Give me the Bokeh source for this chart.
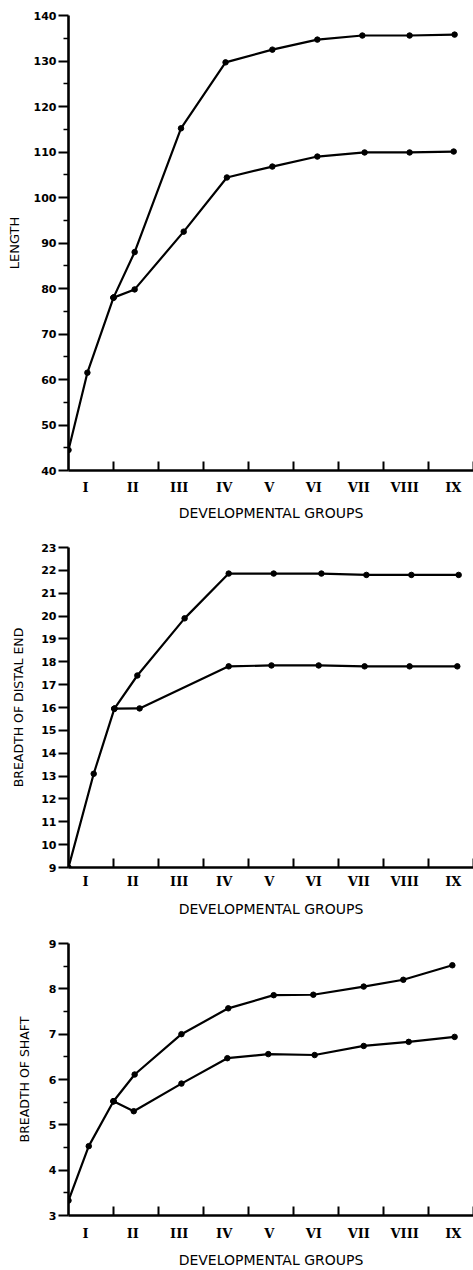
from bokeh.plotting import figure
from bokeh.layouts import column
from bokeh.models import FixedTicker, Range1d
from bokeh.embed import file_html
from bokeh.resources import INLINE

# ---- categories / tick labels ----
groups = ["I", "II", "III", "IV", "V", "VI", "VII", "VIII", "IX"]
group_label_x = [0.38, 1.43, 2.46, 3.46, 4.46, 5.45, 6.45, 7.47, 8.55]
group_bounds = [1, 2, 3, 4, 5, 6, 7, 8, 9]

# ---- Panel 1: LENGTH ----
len_shared_x = [0.0, 0.42, 1.0]
len_shared_y = [44.5, 61.5, 78.0]
len_upper_x = [1.0, 1.47, 2.5, 3.49, 4.53, 5.53, 6.53, 7.58, 8.58]
len_upper_y = [78.0, 88.0, 115.2, 129.7, 132.5, 134.7, 135.6, 135.6, 135.8]
len_lower_x = [1.0, 1.47, 2.56, 3.52, 4.53, 5.53, 6.58, 7.58, 8.56]
len_lower_y = [78.0, 79.8, 92.5, 104.4, 106.8, 109.0, 109.9, 109.9, 110.1]
len_ticks = [40, 50, 60, 70, 80, 90, 100, 110, 120, 130, 140]
len_minor = [45, 55, 65, 75, 85, 95, 105, 115, 125, 135]

# ---- Panel 2: BREADTH OF DISTAL END ----
dist_shared_x = [0.0, 0.56, 1.02]
dist_shared_y = [9.0, 13.1, 15.95]
dist_upper_x = [1.02, 1.53, 2.58, 3.56, 4.56, 5.62, 6.62, 7.62, 8.67]
dist_upper_y = [15.95, 17.4, 19.9, 21.86, 21.86, 21.86, 21.8, 21.8, 21.8]
dist_lower_x = [1.02, 1.58, 3.56, 4.51, 5.56, 6.58, 7.58, 8.64]
dist_lower_y = [15.95, 15.96, 17.8, 17.84, 17.84, 17.8, 17.8, 17.8]
dist_ticks = list(range(9, 24))

# ---- Panel 3: BREADTH OF SHAFT ----
shaft_shared_x = [0.0, 0.45, 1.0]
shaft_shared_y = [3.33, 4.53, 5.52]
shaft_upper_x = [1.0, 1.47, 2.51, 3.55, 4.56, 5.44, 6.56, 7.44, 8.53]
shaft_upper_y = [5.52, 6.11, 7.0, 7.57, 7.86, 7.87, 8.05, 8.2, 8.52]
shaft_lower_x = [1.0, 1.45, 2.51, 3.53, 4.44, 5.47, 6.56, 7.56, 8.58]
shaft_lower_y = [5.52, 5.3, 5.91, 6.47, 6.56, 6.54, 6.74, 6.83, 6.94]
shaft_ticks = [3, 4, 5, 6, 7, 8, 9]
shaft_minor = [3.5, 4.5, 5.5, 6.5, 7.5, 8.5]

X_TITLE = "DEVELOPMENTAL GROUPS"


def make_panel(height, top, bottom, yrange, yticks, yminor, ylabel,
               series, lab_standoff, title_standoff, ytitle_standoff,
               ytitle_size):
    p = figure(width=473, height=height,
               x_range=Range1d(0, 9.0), y_range=Range1d(*yrange),
               output_backend="svg", toolbar_location=None,
               min_border_left=68, min_border_right=0,
               min_border_top=top, min_border_bottom=bottom)
    p.grid.visible = False
    p.outline_line_color = None
    p.background_fill_color = "white"
    p.border_fill_color = "white"

    ya = p.yaxis[0]
    ya.ticker = FixedTicker(ticks=yticks, minor_ticks=yminor)
    ya.axis_line_width = 2.6
    ya.axis_line_color = "black"
    ya.major_tick_line_width = 2
    ya.major_tick_line_color = "black"
    ya.major_tick_out = 10
    ya.major_tick_in = 0
    ya.minor_tick_line_width = 1.5
    ya.minor_tick_line_color = "black"
    ya.minor_tick_out = 5
    ya.minor_tick_in = 0
    ya.major_label_standoff = 2
    ya.major_label_text_font = "DejaVu Sans"
    ya.major_label_text_font_style = "bold"
    ya.major_label_text_font_size = "11px"
    ya.major_label_text_color = "black"
    ya.axis_label = ylabel
    ya.axis_label_text_font = "DejaVu Sans"
    ya.axis_label_text_font_style = "normal"
    ya.axis_label_text_font_size = ytitle_size
    ya.axis_label_text_color = "black"
    ya.axis_label_standoff = ytitle_standoff

    xa = p.xaxis[0]
    xa.ticker = FixedTicker(ticks=group_label_x, minor_ticks=group_bounds)
    xa.major_label_overrides = {x: g for x, g in zip(group_label_x, groups)}
    xa.axis_line_width = 2.6
    xa.axis_line_color = "black"
    xa.major_tick_in = 0
    xa.major_tick_out = 0
    xa.minor_tick_in = 9
    xa.minor_tick_out = 0
    xa.minor_tick_line_width = 2
    xa.minor_tick_line_color = "black"
    xa.major_label_standoff = lab_standoff
    xa.major_label_text_font = "DejaVu Serif"
    xa.major_label_text_font_style = "bold"
    xa.major_label_text_font_size = "13px"
    xa.major_label_text_color = "black"
    xa.axis_label = X_TITLE
    xa.axis_label_text_font = "DejaVu Sans"
    xa.axis_label_text_font_style = "normal"
    xa.axis_label_text_font_size = "14px"
    xa.axis_label_text_color = "black"
    xa.axis_label_standoff = title_standoff

    for xs, ys in series:
        p.line(xs, ys, line_color="black", line_width=2.2, line_join="round")
        p.scatter(xs, ys, marker="circle", size=5.5, fill_color="black",
                  line_color="black")
    return p


p1 = make_panel(525, 15, 55, (40, 140), len_ticks, len_minor, "LENGTH",
                [(len_shared_x, len_shared_y), (len_upper_x, len_upper_y),
                 (len_lower_x, len_lower_y)], 9, 7, 9, "13px")
p2 = make_panel(397, 22, 55, (9, 23), dist_ticks, [], "BREADTH OF DISTAL END",
                [(dist_shared_x, dist_shared_y), (dist_upper_x, dist_upper_y),
                 (dist_lower_x, dist_lower_y)], 6, 9, 12, "12.5px")
p3 = make_panel(348, 21, 53, (3, 9), shaft_ticks, shaft_minor, "BREADTH OF SHAFT",
                [(shaft_shared_x, shaft_shared_y), (shaft_upper_x, shaft_upper_y),
                 (shaft_lower_x, shaft_lower_y)], 10, 8, 14, "12.5px")

layout = column(p1, p2, p3, spacing=0)
open("out.html", "w").write(file_html(layout, INLINE))
